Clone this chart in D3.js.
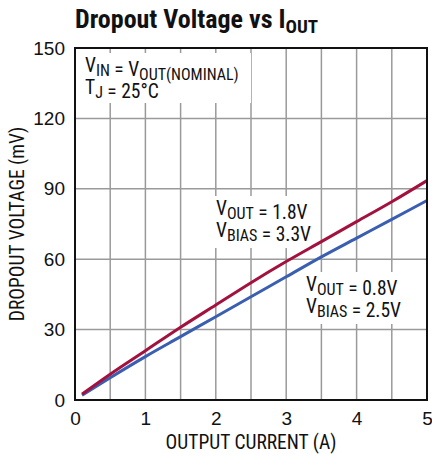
<!DOCTYPE html>
<html>
<head>
<meta charset="utf-8">
<script src="https://cdn.jsdelivr.net/npm/d3@7"></script>
<style>
  body { margin: 0; background: #fff; }
  svg text { font-family: "Liberation Sans Narrow", "Roboto Condensed", "Liberation Sans", sans-serif; fill: #111; }
</style>
</head>
<body>
<div id="chart"></div>
<script>
// values
const currents = [0.1, 0.5, 1, 1.5, 2, 2.5, 3, 3.5, 4, 4.5, 5];
const vout18 = [2.5, 11, 21, 31, 40.5, 50, 59, 67.5, 76, 84.5, 93.5];
const vout08 = [2, 9.5, 18.5, 27, 35.5, 44, 52.5, 61, 69, 77, 85];
const xTicks = [0, 1, 2, 3, 4, 5];
const yTicks = [0, 30, 60, 90, 120, 150];

const W = 432, H = 462;
const margin = { top: 48, right: 5, bottom: 62, left: 75 };
const width = W - margin.left - margin.right,
    height = H - margin.top - margin.bottom;

const svg = d3.select("#chart").append("svg")
    .attr("width", W)
    .attr("height", H);

// title
const title = svg.append("text")
    .attr("x", 75)
    .attr("y", 28)
    .style("font-size", "26px")
    .style("font-weight", "bold");
title.append("tspan").text("Dropout Voltage vs I");
title.append("tspan").attr("dy", 5).style("font-size", "19px").text("OUT");

const g = svg.append("g")
    .attr("transform", "translate(" + margin.left + "," + margin.top + ")");

const x = d3.scaleLinear().domain([0, 5]).range([0, width]);
const y = d3.scaleLinear().domain([0, 150]).range([height, 0]);

// grid
g.append("g")
    .selectAll("line")
    .data(d3.range(0.5, 5, 0.5))
    .enter().append("line")
    .attr("x1", d => x(d)).attr("x2", d => x(d))
    .attr("y1", 0).attr("y2", height)
    .attr("stroke", "#9a9a9a").attr("stroke-width", 1.5);
g.append("g")
    .selectAll("line")
    .data(yTicks.slice(1, -1))
    .enter().append("line")
    .attr("x1", 0).attr("x2", width)
    .attr("y1", d => y(d)).attr("y2", d => y(d))
    .attr("stroke", "#9a9a9a").attr("stroke-width", 1.5);

// label boxes hide grid behind text
function label(lines, lx, ly, bw, bh) {
    g.append("rect")
        .attr("x", lx - 4).attr("y", ly - 19)
        .attr("width", bw).attr("height", bh)
        .attr("fill", "#fff");
    lines.forEach((ln, i) => {
        const t = g.append("text")
            .attr("x", lx)
            .attr("y", ly + i * 22)
            .style("font-size", "19.5px");
        ln.forEach(part => {
            if (part[1]) {
                t.append("tspan").attr("dy", 4).style("font-size", "16px").text(part[0]);
                t.append("tspan").attr("dy", -4).text("");
            } else {
                t.append("tspan").text(part[0]);
            }
        });
    });
}
label([[["V"], ["IN", 1], [" = V"], ["OUT(NOMINAL)", 1]], [["T"], ["J", 1], [" = 25°C"]]], 10, 24, 170, 50);
label([[["V"], ["OUT", 1], [" = 1.8V"]], [["V"], ["BIAS", 1], [" = 3.3V"]]], 141, 167, 104, 52);
label([[["V"], ["OUT", 1], [" = 0.8V"]], [["V"], ["BIAS", 1], [" = 2.5V"]]], 231, 243, 104, 52);

// series
const line = d3.line()
    .x((d, i) => x(currents[i]))
    .y(d => y(d))
    .curve(d3.curveMonotoneX);
g.append("path").datum(vout08)
    .attr("d", line)
    .attr("fill", "none").attr("stroke", "#3a5fb0").attr("stroke-width", 3);
g.append("path").datum(vout18)
    .attr("d", line)
    .attr("fill", "none").attr("stroke", "#a3123f").attr("stroke-width", 3);

// frame
g.append("rect")
    .attr("width", width).attr("height", height)
    .attr("fill", "none").attr("stroke", "#111").attr("stroke-width", 2);

// axes
const xAxis = g.append("g")
    .attr("transform", "translate(0," + height + ")")
    .call(d3.axisBottom(x).tickValues(xTicks).tickFormat(d3.format("d")).tickSize(0).tickPadding(12));
const yAxis = g.append("g")
    .call(d3.axisLeft(y).tickValues(yTicks).tickFormat(d3.format("d")).tickSize(0).tickPadding(10));
[xAxis, yAxis].forEach(a => {
    a.select(".domain").remove();
    a.selectAll("text").style("font-size", "19px").attr("fill", "#111")
        .style("font-family", "Liberation Sans Narrow, sans-serif");
});

svg.append("text")
    .attr("x", margin.left + width / 2)
    .attr("y", 449)
    .attr("text-anchor", "middle")
    .style("font-size", "19.5px")
    .text("OUTPUT CURRENT (A)");
svg.append("text")
    .attr("transform", "translate(24," + (margin.top + height / 2) + ")rotate(-90)")
    .attr("text-anchor", "middle")
    .style("font-size", "19.5px")
    .text("DROPOUT VOLTAGE (mV)");
</script>
</body>
</html>
